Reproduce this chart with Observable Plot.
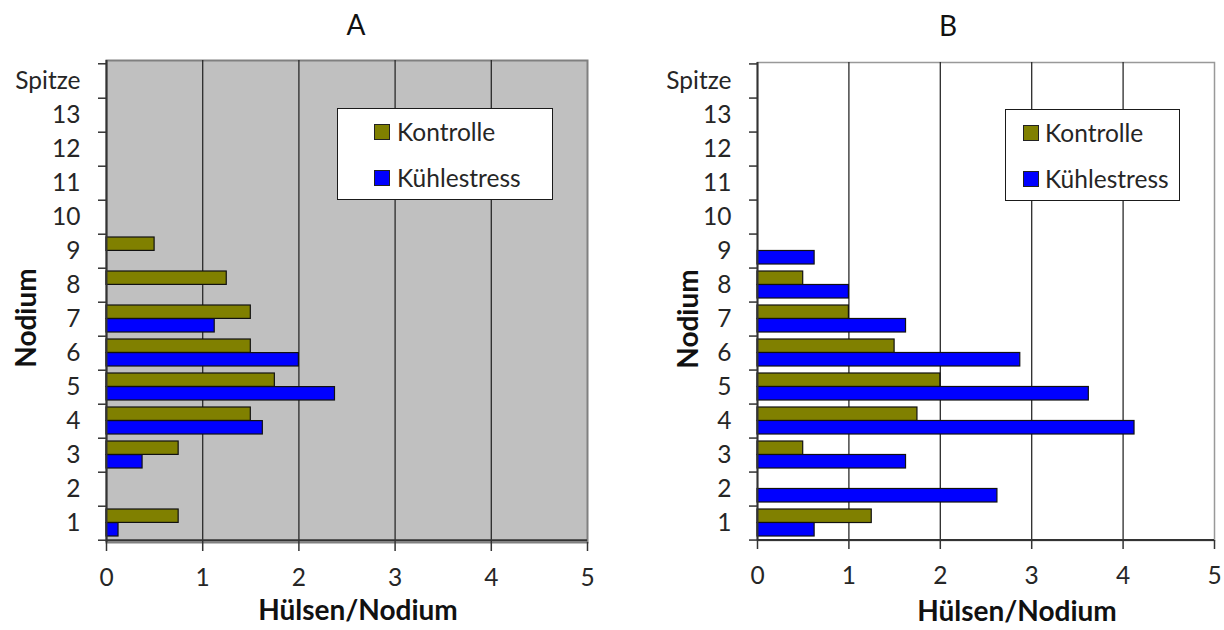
<!DOCTYPE html>
<html>
<head>
<meta charset="utf-8">
<script src="https://cdn.jsdelivr.net/npm/d3@7"></script>
<script src="https://cdn.jsdelivr.net/npm/@observablehq/plot@0.6"></script>
<style>
  body { margin: 0; background: #fff; font-family: Lato, "Open Sans", sans-serif; }
  #wrap { position: relative; width: 1224px; height: 630px; overflow: hidden; background: #fff; }
  #wrap svg { position: absolute; top: 0; }
</style>
</head>
<body>
<div id="wrap"></div>
<script>
// ---- data ----
const nodes = ["1", "2", "3", "4", "5", "6", "7", "8", "9", "10", "11", "12", "13", "Spitze"];
const seriesNames = ["Kontrolle", "Kühlestress"];
const seriesColors = ["#808000", "#0000ff"];
const xTicks = [0, 1, 2, 3, 4, 5];
const panelTitles = ["A", "B"];
const xTitle = "Hülsen/Nodium";
const yTitle = "Nodium";

// Panel A (values per node 1..13, Spitze)
const aKontrolle   = [0.75, 0, 0.75, 1.5, 1.75, 1.5, 1.5, 1.25, 0.5, 0, 0, 0, 0, 0];
const aKuehlstress = [0.125, 0, 0.375, 1.625, 2.375, 2.0, 1.125, 0, 0, 0, 0, 0, 0, 0];
// Panel B
const bKontrolle   = [1.25, 0, 0.5, 1.75, 2.0, 1.5, 1.0, 0.5, 0, 0, 0, 0, 0, 0];
const bKuehlstress = [0.625, 2.625, 1.625, 4.125, 3.625, 2.875, 1.625, 1.0, 0.625, 0, 0, 0, 0, 0];

const wrap = document.getElementById("wrap");

function addDiv(text, css) {
  const d = document.createElement("div");
  d.textContent = text;
  Object.assign(d.style, {position: "absolute", whiteSpace: "nowrap", lineHeight: "1"}, css);
  wrap.appendChild(d);
  return d;
}

function legend(box) {
  const div = document.createElement("div");
  Object.assign(div.style, {
    position: "absolute", left: box.left + "px", top: box.top + "px",
    width: box.width + "px", height: box.height + "px", background: "#fff",
    border: "1px solid #1a1a1a", boxSizing: "border-box"
  });
  seriesNames.forEach((name, i) => {
    const row = document.createElement("div");
    Object.assign(row.style, {
      position: "absolute", left: box.swatchX + "px", top: (box.rowTop + i * box.rowGap) + "px",
      display: "flex", alignItems: "center", height: "16px"
    });
    const sw = document.createElement("span");
    Object.assign(sw.style, {
      width: "16px", height: "16px", background: seriesColors[i], border: "1.5px solid #222",
      boxSizing: "border-box", marginRight: box.gap + "px", flex: "none"
    });
    const tx = document.createElement("span");
    tx.textContent = name;
    Object.assign(tx.style, {fontSize: "24.5px", lineHeight: "16px", color: "#262626", whiteSpace: "nowrap"});
    row.appendChild(sw);
    row.appendChild(tx);
    div.appendChild(row);
  });
  wrap.appendChild(div);
}

function panel(cfg) {
  const rows = [];
  cfg.series.forEach((vals, s) => vals.forEach((v, i) => {
    if (v > 0) rows.push({node: nodes[i], series: seriesNames[s], value: v});
  }));
  const plotH = cfg.height - cfg.marginTop - cfg.marginBottom;
  const step = plotH / nodes.length;
  const pad = 0.21;
  const bw = step * (1 - pad);
  const svg = Plot.plot({
    width: cfg.width,
    height: cfg.height,
    marginLeft: cfg.marginLeft,
    marginRight: cfg.marginRight,
    marginTop: cfg.marginTop,
    marginBottom: cfg.marginBottom,
    style: {fontFamily: "Lato, 'Open Sans', sans-serif", fontSize: "24.5px", color: "#262626", background: "transparent", overflow: "visible"},
    x: {domain: [xTicks[0], xTicks[xTicks.length - 1]], label: null},
    y: {domain: nodes.slice().reverse(), paddingInner: pad, paddingOuter: pad / 2, label: null},
    marks: [
      Plot.frame({fill: cfg.bg, stroke: cfg.frameStroke, strokeWidth: cfg.frameWidth}),
      Plot.ruleX(xTicks.slice(1, -1), {stroke: "#2a2a2a", strokeWidth: 1.3}),
      Plot.barX(rows.filter(d => d.series === seriesNames[0]), {
        y: "node", x: "value", fill: seriesColors[0], stroke: "#111", strokeWidth: 1.2, insetBottom: bw / 2
      }),
      Plot.barX(rows.filter(d => d.series === seriesNames[1]), {
        y: "node", x: "value", fill: seriesColors[1], stroke: "#111", strokeWidth: 1.2, insetTop: bw / 2
      }),
      Plot.ruleX([xTicks[0]], {stroke: "#333", strokeWidth: 2}),
      Plot.ruleY([nodes[0]], {dy: step / 2, stroke: "#333", strokeWidth: 2}),
      Plot.axisY({tickSize: 0, tickPadding: 26}),
      Plot.axisY({tickSize: 8, tickFormat: () => "", dy: step / 2, stroke: "#333", strokeWidth: 1.5}),
      Plot.axisY({ticks: [nodes[nodes.length - 1]], tickSize: 8, tickFormat: () => "", dy: -step / 2, stroke: "#333", strokeWidth: 1.5}),
      Plot.axisX({ticks: xTicks, tickFormat: "d", tickSize: 9, tickPadding: 17, stroke: "#333", strokeWidth: 1.5})
    ]
  });
  svg.style.left = cfg.left + "px";
  wrap.appendChild(svg);
}

panel({
  left: 0, width: 612, height: 630,
  marginLeft: 106, marginRight: 25, marginTop: 60, marginBottom: 88,
  bg: "#c0c0c0", frameStroke: "#808080", frameWidth: 2,
  series: [aKontrolle, aKuehlstress]
});
panel({
  left: 612, width: 612, height: 630,
  marginLeft: 145, marginRight: 10, marginTop: 62, marginBottom: 90,
  bg: "#ffffff", frameStroke: "#999999", frameWidth: 1.5,
  series: [bKontrolle, bKuehlstress]
});

legend({left: 337, top: 108, width: 216, height: 92, swatchX: 36, rowTop: 15, rowGap: 46, gap: 7});
legend({left: 1005, top: 109, width: 175, height: 92, swatchX: 17, rowTop: 15, rowGap: 46, gap: 6});

// titles
addDiv(panelTitles[0], {left: "356px", top: "10px", fontSize: "28px", color: "#111", transform: "translateX(-50%)"});
addDiv(panelTitles[1], {left: "948px", top: "11px", fontSize: "28px", color: "#111", transform: "translateX(-50%)"});
// axis titles
addDiv(xTitle, {left: "358px", top: "595px", fontSize: "28px", fontWeight: "bold", color: "#111", transform: "translateX(-50%)"});
addDiv(xTitle, {left: "1017px", top: "596px", fontSize: "28px", fontWeight: "bold", color: "#111", transform: "translateX(-50%)"});
addDiv(yTitle, {left: "25px", top: "318px", fontSize: "28px", fontWeight: "bold", color: "#111", transform: "translate(-50%,-50%) rotate(-90deg)"});
addDiv(yTitle, {left: "687px", top: "319px", fontSize: "28px", fontWeight: "bold", color: "#111", transform: "translate(-50%,-50%) rotate(-90deg)"});
</script>
</body>
</html>
